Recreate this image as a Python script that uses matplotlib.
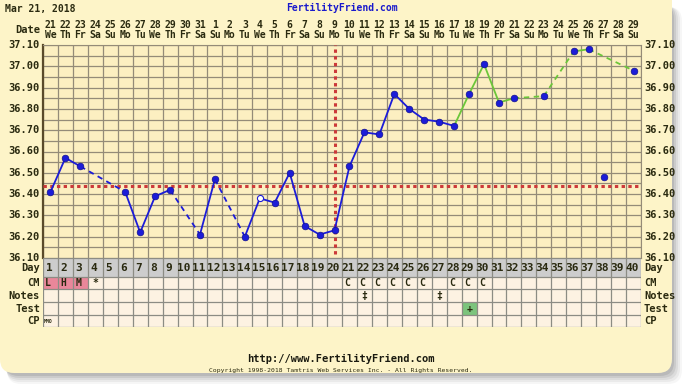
import datetime
import matplotlib
matplotlib.use('Agg')
import matplotlib.pyplot as plt
from matplotlib.patches import Rectangle, FancyBboxPatch
import numpy as np

# ---- data ----
start_date = datetime.date(2018, 3, 21)
days = list(range(1, 41))
temps = [36.41, 36.57, 36.53, None, None, 36.41, 36.22, 36.39, 36.42, None,
         36.21, 36.47, None, 36.20, 36.38, 36.36, 36.50, 36.25, 36.21, 36.23,
         36.53, 36.69, 36.68, 36.87, 36.80, 36.75, 36.74, 36.72, 36.87, 37.01,
         36.83, 36.85, None, 36.86, None, 37.07, 37.08, 36.48, None, 36.98]
open_days = [15]          # hollow marker
unjoined_days = [38]      # plotted but not joined by the line
green_from = 28           # line turns green from this day on
coverline = 36.44
ovulation_day = 20

cm = {1: 'L', 2: 'H', 3: 'M', 4: '*', 21: 'C', 22: 'C', 23: 'C', 24: 'C',
      25: 'C', 26: 'C', 28: 'C', 29: 'C', 30: 'C'}
cm_fill = [1, 2, 3]
notes = {22: '‡', 27: '‡'}
test = {29: '+'}
cp = {1: 'MMO'}
row_names = ['Day', 'CM', 'Notes', 'Test', 'CP']
temp_ticks = [37.10, 37.00, 36.90, 36.80, 36.70, 36.60, 36.50, 36.40, 36.30, 36.20, 36.10]

# ---- colours / fonts ----
CARD = '#fdf4c8'
PLOT_BG = '#fcefc1'
GRID = '#948b78'
BLUE = '#1c1cd8'
GREEN = '#6cc63a'
RED = '#cc3a3a'
TXT = '#2a2a10'
FONT = 'DejaVu Sans Mono'
FS = 7

W, H = 682, 385
fig = plt.figure(figsize=(W / 100, H / 100), dpi=100)
fig.patch.set_facecolor('white')

# background axes in pixel coordinates
bg = fig.add_axes([0, 0, 1, 1])
bg.set_xlim(0, W)
bg.set_ylim(H, 0)
bg.axis('off')
for i, a in enumerate([0.05, 0.07, 0.09, 0.12, 0.15]):
    off = 10 - 2 * i
    bg.add_patch(FancyBboxPatch((4 + off * 0.3, 4 + off * 0.3), 668 + off * 0.7, 370 + off * 0.7,
                                boxstyle='round,pad=0,rounding_size=14', fc='#555555',
                                ec='none', alpha=a))
bg.add_patch(FancyBboxPatch((0, -20), 672, 393, boxstyle='round,pad=0,rounding_size=14',
                            fc=CARD, ec='none'))

L, R, T, B = 43, 641, 45, 258


def pix_axes(x0, x1, y0, y1):
    return fig.add_axes([x0 / W, 1 - y1 / H, (x1 - x0) / W, (y1 - y0) / H])


# header
bg.text(5, 9, start_date.strftime('%b %d, %Y').replace(' 0', ' '), fontsize=FS,
        fontweight='bold', family=FONT, color=TXT, va='center')
bg.text(342, 8, 'FertilityFriend.com', fontsize=FS, fontweight='bold', family=FONT,
        color='#1a1acc', va='center', ha='center')
bg.text(40, 30, 'Date', fontsize=FS + 0.5, fontweight='bold', family=FONT, color=TXT,
        va='center', ha='right')
colw = (R - L) / len(days)
for d in days:
    dt = start_date + datetime.timedelta(days=d - 1)
    cx = L + (d - 0.5) * colw
    bg.text(cx, 24.5, str(dt.day), fontsize=FS, fontweight='bold', family=FONT,
            color=TXT, va='center', ha='center')
    bg.text(cx, 35.5, dt.strftime('%a')[:2], fontsize=FS, fontweight='bold', family=FONT,
            color=TXT, va='center', ha='center')

# ---- temperature chart ----
ax = pix_axes(L, R, T, B)
ax.set_facecolor(PLOT_BG)
ax.set_xlim(0.5, len(days) + 0.5)
ax.set_ylim(36.10, 37.10)
for x in np.arange(0.5, len(days) + 1, 1):
    ax.axvline(x, color=GRID, lw=0.9, zorder=1)
for y in np.arange(36.10, 37.101, 0.05):
    ax.axhline(y, color=GRID, lw=0.9, zorder=1)
ax.set_xticks([])
ax.set_yticks([])
for s in ax.spines.values():
    s.set_color(GRID)
ax.spines['left'].set_color('#5a4a2a')
ax.spines['left'].set_linewidth(1.6)

ax.axhline(coverline, color=RED, lw=2.2, ls=(0, (1.1, 1.1)), zorder=3)
ax.axvline(ovulation_day, ymin=0.02, color=RED, lw=2.2, ls=(0, (1.1, 1.1)), zorder=3)

pts = [(d, t) for d, t in zip(days, temps) if t is not None]
joined = [(d, t) for d, t in pts if d not in unjoined_days]
for (d0, t0), (d1, t1) in zip(joined[:-1], joined[1:]):
    col = GREEN if d0 >= green_from else BLUE
    ls = '-' if d1 - d0 == 1 else (0, (3, 2.5))
    ax.plot([d0, d1], [t0, t1], color=col, lw=1.3, ls=ls, zorder=4)
for d, t in pts:
    if d in open_days:
        ax.plot(d, t, 'o', ms=4.4, mfc='white', mec=BLUE, mew=0.8, zorder=5)
    else:
        ax.plot(d, t, 'o', ms=4.8, mfc=BLUE, mec='#101090', mew=0.5, zorder=5)

for t in temp_ticks:
    y = T + (37.10 - t) / 1.0 * (B - T)
    bg.text(40, y, f'{t:.2f}', fontsize=FS + 0.5, fontweight='bold', family=FONT,
            color=TXT, va='center', ha='right')
    bg.text(644, y, f'{t:.2f}', fontsize=FS + 0.5, fontweight='bold', family=FONT,
            color=TXT, va='center', ha='left')

# ---- table ----
row_h = [18.7, 12.6, 13.0, 12.7, 12.3]
row_top = np.concatenate([[0], np.cumsum(row_h)])
tb = pix_axes(L, R, B, B + row_top[-1])
tb.set_xlim(0.5, len(days) + 0.5)
tb.set_ylim(row_top[-1], 0)
tb.axis('off')
tb.add_patch(Rectangle((0.5, 0), len(days), row_h[0], fc='#cdcdcd', ec='none'))
tb.add_patch(Rectangle((0.5, row_h[0]), len(days), row_top[-1] - row_h[0], fc='#fdf2e2', ec='none'))
for d in cm_fill:
    tb.add_patch(Rectangle((d - 0.5, row_top[1]), 1, row_h[1], fc='#e9879a', ec='none'))
for d in test:
    tb.add_patch(Rectangle((d - 0.5, row_top[3]), 1, row_h[3], fc='#7cc47c', ec='none'))
for x in np.arange(0.5, len(days) + 1, 1):
    tb.plot([x, x], [0, row_top[-1]], color='#8c8c84', lw=0.9)
for y in row_top:
    tb.plot([0.5, len(days) + 0.5], [y, y], color='#8c8c84', lw=0.9)


def cell_text(row, values, size=FS):
    yc = (row_top[row] + row_top[row + 1]) / 2
    for d, s in values.items():
        tb.text(d - 0.15 if s not in '*‡+' else d, yc, s, fontsize=size, fontweight='bold',
                family=FONT, color=TXT, ha='center', va='center')


for d in days:
    tb.text(d - 0.1, row_h[0] / 2 + 1, str(d), fontsize=FS + 1, fontweight='bold',
            family=FONT, color=TXT, ha='center', va='center')
cell_text(1, cm)
cell_text(2, notes)
cell_text(3, test)
for d, s in cp.items():
    tb.text(d - 0.42, (row_top[4] + row_top[5]) / 2, s, fontsize=3.5, fontweight='bold',
            family=FONT, color=TXT, ha='left', va='center')

for i, name in enumerate(row_names):
    y = B + (row_top[i] + row_top[i + 1]) / 2 + (1 if i == 0 else 0)
    bg.text(40, y, name, fontsize=FS + 0.5, fontweight='bold', family=FONT, color=TXT,
            ha='right', va='center')
    bg.text(644, y, name, fontsize=FS + 0.5, fontweight='bold', family=FONT, color=TXT,
            ha='left', va='center')

# footer
bg.text(341, 359, 'http://www.FertilityFriend.com', fontsize=FS + 0.5, fontweight='bold',
        family=FONT, color='#1a1a10', ha='center', va='center')
bg.text(341, 370.5, 'Copyright 1998-2018 Tamtris Web Services Inc. - All Rights Reserved.',
        fontsize=4.6, family=FONT, color=TXT, ha='center', va='center')

fig.savefig('out.png', dpi=100, facecolor='white')
